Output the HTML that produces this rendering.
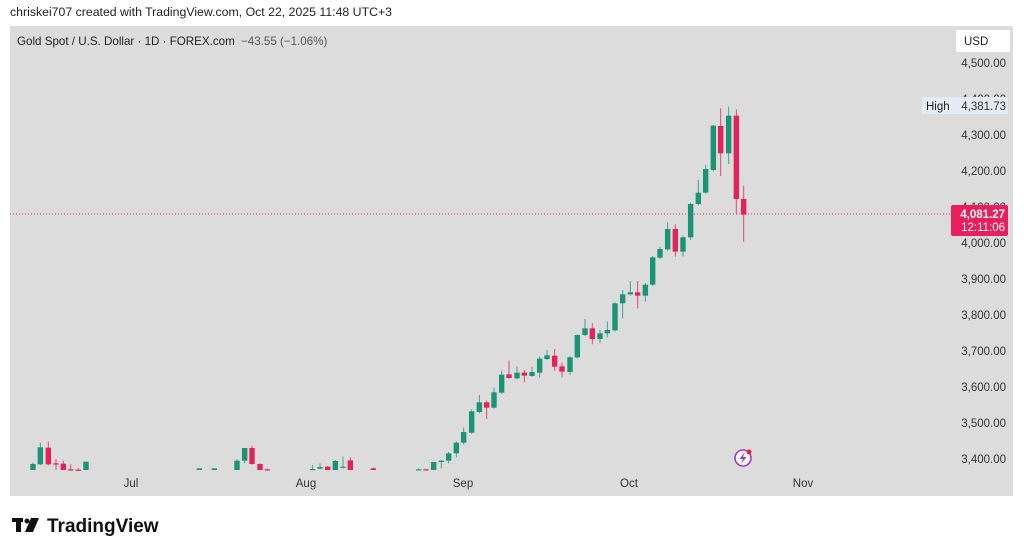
<!DOCTYPE html>
<html><head><meta charset="utf-8"><style>
html,body{margin:0;padding:0;background:#fff;width:1024px;height:554px;overflow:hidden;font-family:"Liberation Sans","DejaVu Sans",sans-serif}
svg text{font-family:"Liberation Sans","DejaVu Sans",sans-serif}
</style></head><body>
<svg id="s" width="1024" height="554" xmlns="http://www.w3.org/2000/svg">
<text x="10" y="16" font-size="12.3" fill="#222">chriskei707 created with TradingView.com, Oct 22, 2025 11:48 UTC+3</text>
<rect x="10" y="26" width="1003" height="470" fill="#dcdcdc"/>
<text x="17" y="45" font-size="11.6" fill="#222">Gold Spot / U.S. Dollar · 1D · FOREX.com <tspan fill="#555" dx="3">−43.55 (−1.06%)</tspan></text>
<rect x="956" y="30" width="54" height="22" rx="2" fill="#fff"/>
<text x="964" y="45" font-size="11.5" fill="#222">USD</text>
<g id="ylab" font-size="11.5" fill="#333" text-anchor="end"></g>
<g font-size="11.5" fill="#333" text-anchor="middle">
<text x="131" y="487">Jul</text><text x="306" y="487">Aug</text><text x="463" y="487">Sep</text><text x="629" y="487">Oct</text><text x="803" y="487">Nov</text>
</g>
<line x1="10" y1="214" x2="950" y2="214" stroke="#e8365d" stroke-width="1" stroke-dasharray="1,2"/>
<g id="c"></g>
<rect x="922" y="97" width="86" height="17" fill="#e3ebf3"/>
<text x="926" y="110" font-size="11.5" fill="#222">High</text>
<text x="1006" y="110" font-size="11.5" fill="#333" text-anchor="end">4,381.73</text>
<rect x="951" y="205" width="57" height="31" rx="2" fill="#e91e5c"/>
<text x="1005" y="218" font-size="11.5" fill="#fff" text-anchor="end" font-weight="bold">4,081.27</text>
<text x="1005" y="231" font-size="11.5" fill="#fff" text-anchor="end">12:11:06</text>
<circle cx="743" cy="458" r="8" fill="#fff" stroke="#a435c8" stroke-width="1.6"/>
<path d="M745 452 L739.5 459 L743 459 L741 464 L746.5 457 L743 457 Z" fill="#a435c8"/>
<circle cx="749" cy="452" r="2.5" fill="#e91e3a"/>
<g fill="#111">
<rect x="12" y="518" width="11" height="4"/><rect x="16" y="518" width="5" height="14"/>
<circle cx="27" cy="521" r="2.5"/><path d="M31 518 L39 518 L33 532 L25 532 Z"/>
</g>
<text x="47" y="532" font-size="19" font-weight="bold" fill="#111">TradingView</text>
</svg>
<script>
var ns="http://www.w3.org/2000/svg";
var yl=document.getElementById("ylab");
var labs=[[4500,63],[4400,99],[4300,135],[4200,171],[4100,207],[4000,243],[3900,279],[3800,315],[3700,351],[3600,387],[3500,423],[3400,459]];
labs.forEach(function(l){var t=document.createElementNS(ns,"text");t.setAttribute("x",1006);t.setAttribute("y",l[1]+4);t.textContent=(l[0]/1000|0)+","+String(l[0]%1000).padStart(3,"0")+".00";yl.appendChild(t);});
var G="#1a9477",R="#e5215a";
var z3=[[99,150,132,128,152],[121,133,82,68,136],[145,83,133,65,136],[168,130,133,117,150],[190,131,150,122,152],[212,148,150,133,152],[235,149,150,145,152],[258,150,125,125,152],[598,150,145,145,152],[643,150,145,145,152],[711,150,122,118,152],[734,122,84,84,130],[756,84,132,77,134],[780,132,150,130,152],[802,148,150,146,152],[938,149,147,135,150],[960,146,141,130,148],[983,140,150,138,152],[1006,150,123,120,152],[1029,143,140,110,145],[1051,121,150,112,152],[1120,145,150,143,152],[1256,150,148,145,152],[1278,148,150,146,152]];
var z4=[[41,660,636,636,662],[64,636,632,630,655],[86,632,610,606,640],[109,610,578,574,622],[131,578,546,533,583],[155,548,484,478,552],[178,486,457,435,490],[200,457,473,452,507],[222,473,427,413,476],[245,428,374,362,432],[267,373,384,332,386],[291,385,368,350,388],[313,368,377,360,397],[336,378,366,350,380],[359,368,326,320,383],[381,327,316,300,330],[404,317,350,297,362],[426,349,365,338,382],[450,366,322,318,375],[472,322,255,253,325],[495,255,235,207,258],[517,235,267,220,283],[540,267,250,240,280],[562,250,240,215,262],[585,241,160,157,244],[608,160,133,120,205],[631,133,127,93,137],[653,127,137,93,175],[676,137,104,100,155],[698,104,22,18,108]];
var z2=[[180,503,477,470,507],[203,478,417,397,482],[226,417,485,403,500],[249,485,442,437,500],[272,442,342,338,450],[295,342,308,270,346],[317,308,237,225,311],[340,240,107,105,244],[362,108,190,55,258],[386,190,77,50,222],[409,77,327,58,372],[431,327,374,287,455]];
var all=[];
z3.forEach(function(a){all.push([a[0]/3,420+a[1]/3,420+a[2]/3,420+a[3]/3,420+a[4]/3]);});
z4.forEach(function(a){all.push([420+a[0]/3,250+a[1]/3,250+a[2]/3,250+a[3]/3,250+a[4]/3]);});
z2.forEach(function(a){all.push([600+a[0]/3,90+a[1]/3,90+a[2]/3,90+a[3]/3,90+a[4]/3]);});
var g=document.getElementById("c");
all.forEach(function(a){
 var x=a[0],o=a[1],c=a[2],h=a[3],l=Math.min(a[4],470);
 var col=c<=o?G:R;
 var ln=document.createElementNS(ns,"line");
 ln.setAttribute("x1",x);ln.setAttribute("x2",x);ln.setAttribute("y1",h);ln.setAttribute("y2",l);ln.setAttribute("stroke",col);ln.setAttribute("stroke-width",1);ln.setAttribute("opacity",0.8);
 g.appendChild(ln);
 var top=Math.min(o,c),bot=Math.min(Math.max(o,c),470);
 var r=document.createElementNS(ns,"rect");
 r.setAttribute("x",x-2.7);r.setAttribute("width",5.4);r.setAttribute("y",top);r.setAttribute("height",Math.max(bot-top,1.2));r.setAttribute("fill",col);
 g.appendChild(r);
});
</script>
</body></html>
